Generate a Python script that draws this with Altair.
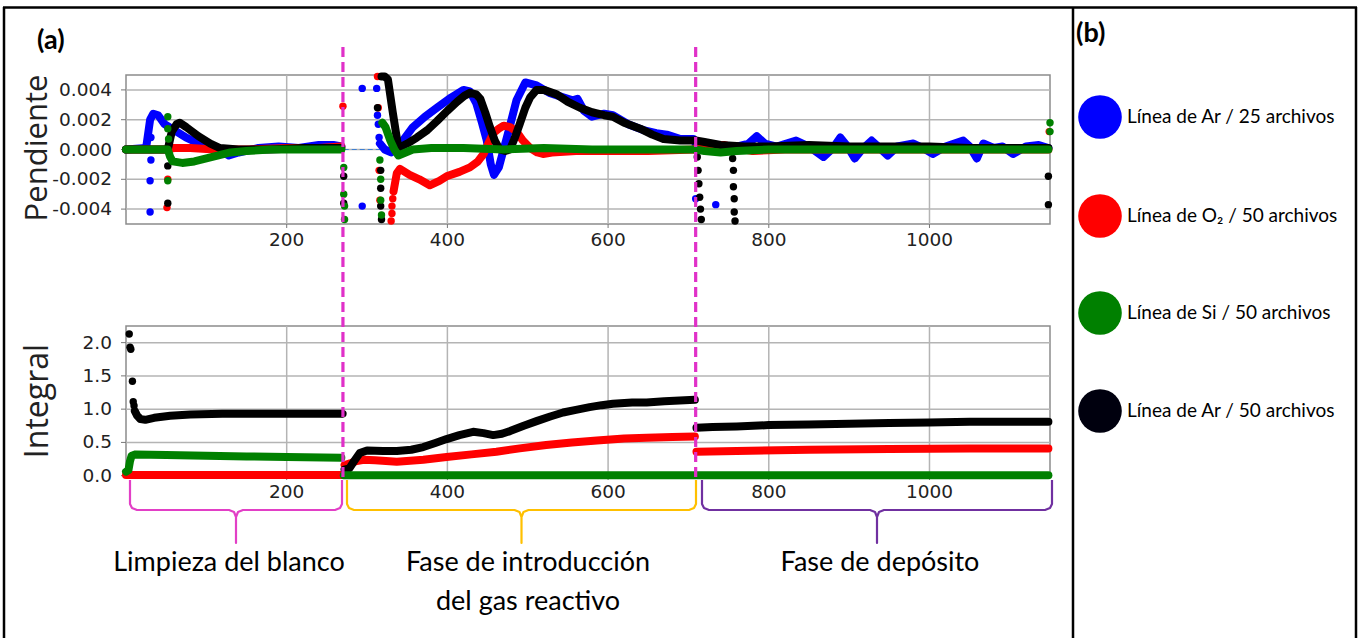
import altair as alt
import pandas as pd

# ---------------------------------------------------------------- data ----
# Time (s) on x. Each trace is split into the three process phases.
PHASE_EDGES = [270, 709]
PHASE_LABELS = ["Limpieza del blanco", "Fase de introducción", "del gas reactivo", "Fase de depósito"]

SERIES = ["ar25", "o2", "si", "ar50"]
LEGEND_LABELS = ["Línea de Ar / 25 archivos", "Línea de O₂ / 50 archivos",
                 "Línea de Si / 50 archivos", "Línea de Ar / 50 archivos"]
COLORS = {"ar25": "#0000ff", "o2": "#ff0000", "si": "#008000", "ar50": "#000000"}
LEGEND_COLORS = ["#0000ff", "#ff0000", "#008000", "#00000e"]
DRAW_ORDER = ["ar25", "o2", "ar50", "si"]

X_TICKS = [200, 400, 600, 800, 1000]
PEND_TICKS = [-0.004, -0.002, 0.0, 0.002, 0.004]
INT_TICKS = [0.0, 0.5, 1.0, 1.5, 2.0]

# ---- Pendiente (slope) traces
pend_ar25 = [
    [(0, 0.0), (25, 0.0001), (30, 0.0020), (34, 0.0024), (40, 0.0023), (48, 0.0017),
     (60, 0.0013), (75, 0.0008), (95, 0.0003), (115, 0.0), (128, -0.0004), (140, -0.0002),
     (165, 0.0001), (190, 0.0002), (215, 0.0001), (240, 0.0003), (258, 0.0003), (268, 0.0002)],
    [(316, 0.0004), (322, 0.0), (330, -0.0002), (339, 0.0002), (357, 0.0015), (372, 0.0022),
     (387, 0.0028), (405, 0.0035), (420, 0.0040), (428, 0.0039), (436, 0.0031), (443, 0.0018),
     (449, 0.0006), (454, -0.0010), (458, -0.0017), (464, -0.0012), (470, 0.0), (476, 0.0012),
     (486, 0.0033), (497, 0.0045), (511, 0.0043), (527, 0.0038), (544, 0.0035), (556, 0.0033),
     (562, 0.0034), (570, 0.0026), (580, 0.0022), (595, 0.0024), (606, 0.0023), (625, 0.0017),
     (644, 0.0013), (660, 0.0011), (673, 0.0010), (690, 0.0007), (706, 0.0007)],
    [(709, 0.0003), (720, 0.0003), (740, 0.0001), (760, 0.0002), (775, 0.0004), (785, 0.0009),
     (795, 0.0004), (810, 0.0002), (834, 0.0006), (850, 0.0002), (868, -0.0005), (880, 0.0001),
     (889, 0.0008), (898, 0.0002), (907, -0.0006), (916, 0.0), (928, 0.0006), (938, 0.0001),
     (948, -0.0004), (960, 0.0002), (980, 0.0004), (992, 0.0001), (1004, -0.0003), (1020, 0.0002),
     (1042, 0.0006), (1050, 0.0002), (1059, -0.0006), (1067, 0.0004), (1080, 0.0001),
     (1091, 0.0002), (1104, -0.0003), (1120, 0.0002), (1136, 0.0003), (1148, 0.0001)],
]
pend_o2 = [
    [(0, 0.0), (50, 0.0), (60, 0.0001), (80, 0.0001), (110, 0.0), (150, 0.0), (200, 0.0001),
     (240, 0.0001), (268, 0.0002)],
    [(333, -0.0028), (337, -0.0016), (341, -0.0013), (353, -0.0017), (365, -0.0020),
     (378, -0.0024), (390, -0.0021), (399, -0.0018), (415, -0.0015), (428, -0.0012),
     (438, -0.0008), (445, -0.0003), (451, 0.0004), (457, 0.0011), (464, 0.0014), (470, 0.0016),
     (478, 0.0015), (486, 0.0012), (494, 0.0006), (503, 0.0001), (512, -0.0002), (519, -0.0003),
     (530, -0.0002), (560, -0.0001), (600, -0.0001), (650, -0.0001), (708, 0.0)],
    [(709, 0.0001), (715, 0.0002), (730, 0.0003), (745, 0.0003), (760, 0.0001), (780, -0.0001),
     (820, 0.0), (880, 0.0), (950, 0.0), (1020, 0.0), (1100, 0.0), (1148, 0.0)],
]
pend_si = [
    [(0, 0.0), (45, 0.0), (52, 0.0), (55, -0.0005), (58, -0.0008), (70, -0.0009), (85, -0.0008),
     (100, -0.0006), (115, -0.0004), (130, -0.0002), (150, -0.0001), (180, 0.0), (220, 0.0),
     (268, 0.0)],
    [(319, 0.0018), (323, 0.0015), (329, 0.0006), (334, 0.0), (339, -0.0004), (348, -0.0002),
     (357, 0.0), (380, 0.0001), (420, 0.0001), (470, 0.0), (520, 0.0001), (580, 0.0), (640, 0.0),
     (708, 0.0)],
    [(709, 0.0), (720, -0.0001), (740, -0.0002), (760, -0.0001), (800, 0.0), (900, 0.0),
     (1000, 0.0), (1100, 0.0), (1148, 0.0)],
]
pend_ar50 = [
    [(0, 0.0), (45, 0.0), (52, 0.0), (57, 0.0012), (63, 0.0017), (67, 0.0018), (75, 0.0015),
     (90, 0.0009), (105, 0.0004), (117, 0.0001), (140, 0.0), (180, 0.0), (220, 0.0001),
     (268, 0.0001)],
    [(318, 0.0049), (322, 0.0049), (326, 0.0047), (332, 0.0025), (339, 0.0001), (350, 0.0004),
     (362, 0.0008), (375, 0.0013), (387, 0.0019), (400, 0.0026), (412, 0.0032), (421, 0.0036),
     (428, 0.0038), (436, 0.0037), (441, 0.0034), (447, 0.0025), (453, 0.0015), (459, 0.0006),
     (465, 0.0), (472, -0.0001), (478, 0.0), (484, 0.0008), (490, 0.0017), (497, 0.0028),
     (503, 0.0035), (511, 0.0040), (520, 0.0040), (536, 0.0037), (550, 0.0032), (565, 0.0028),
     (580, 0.0025), (595, 0.0023), (606, 0.0022), (620, 0.0018), (640, 0.0014), (655, 0.0010),
     (669, 0.0007), (690, 0.0006), (708, 0.0006)],
    [(709, 0.0006), (720, 0.0005), (740, 0.0003), (770, 0.0002), (800, 0.0002), (850, 0.0003),
     (900, 0.0002), (950, 0.0002), (1000, 0.0002), (1050, 0.0001), (1100, 0.0001), (1148, 0.0001)],
]

# isolated slope readings (transients at the phase switches)
pend_ar25_out = [(30, -0.0042), (30, -0.0021), (31, -0.0007), (31, 0.0008), (294, 0.0041),
                 (294, -0.0038), (312, 0.0041), (313, 0.0023), (314, 0.0017), (315, 0.0008),
                 (709, -0.0033), (734, -0.0037)]
pend_o2_out = [(52, -0.0020), (51, -0.0039), (270, 0.0029), (313, 0.0049), (314, 0.0028),
               (315, -0.0014), (316, -0.0034), (330, -0.0048), (331, -0.0043), (331, -0.0038),
               (332, -0.0033), (1149, 0.0012)]
pend_si_out = [(52, 0.0022), (52, 0.0014), (53, 0.0007), (52, -0.0021), (271, -0.0012),
               (271, -0.0030), (272, -0.0038), (272, -0.0047), (316, -0.0007), (317, -0.0020),
               (317, -0.0034), (318, -0.0044), (1150, 0.0018), (1150, 0.0012)]
pend_ar50_out = [(52, -0.0011), (52, -0.0036), (271, -0.0018), (271, -0.0036), (313, 0.0028),
                 (317, -0.0014), (317, -0.0026), (317, -0.0038), (318, -0.0047), (711, -0.0005),
                 (712, -0.0014), (713, -0.0023), (714, -0.0032), (715, -0.0040), (716, -0.0047),
                 (755, -0.0006), (756, -0.0014), (756, -0.0025), (757, -0.0033), (757, -0.0042),
                 (758, -0.0048), (1148, -0.0018), (1148, -0.0037)]

# thin link drawn across the gap of the slope traces
pend_link = [(271, 0.0), (316, 0.0)]

# ---- Integral traces
int_ar25 = [[], [], []]
int_o2 = [
    [(0, 0.01), (50, 0.01), (150, 0.01), (268, 0.01)],
    [(272, 0.16), (280, 0.19), (287, 0.22), (296, 0.24), (310, 0.23), (337, 0.21), (370, 0.24),
     (399, 0.28), (430, 0.32), (461, 0.36), (490, 0.41), (523, 0.46), (555, 0.50), (586, 0.53),
     (620, 0.56), (648, 0.57), (680, 0.58), (708, 0.59)],
    [(710, 0.36), (760, 0.37), (850, 0.39), (950, 0.40), (1050, 0.41), (1148, 0.41)],
]
int_si = [
    [(0, 0.06), (3, 0.08), (5, 0.22), (7, 0.30), (12, 0.32), (50, 0.31), (100, 0.30), (150, 0.29),
     (200, 0.28), (268, 0.27)],
    [(271, 0.005), (708, 0.005)],
    [(710, 0.005), (1148, 0.005)],
]
int_ar50 = [
    [(11, 0.97), (14, 0.90), (18, 0.85), (24, 0.84), (35, 0.87), (55, 0.90), (80, 0.92),
     (120, 0.93), (170, 0.93), (220, 0.93), (268, 0.93)],
    [(272, 0.09), (278, 0.11), (284, 0.22), (291, 0.34), (300, 0.38), (320, 0.37), (337, 0.37),
     (355, 0.39), (370, 0.43), (385, 0.49), (399, 0.55), (415, 0.61), (432, 0.66), (445, 0.64),
     (457, 0.61), (468, 0.63), (478, 0.67), (495, 0.75), (511, 0.82), (528, 0.89), (544, 0.95),
     (560, 0.99), (577, 1.03), (592, 1.06), (606, 1.08), (630, 1.10), (648, 1.10), (670, 1.12),
     (689, 1.13), (708, 1.14)],
    [(710, 0.72), (730, 0.73), (760, 0.74), (800, 0.76), (850, 0.77), (900, 0.78), (950, 0.79),
     (1000, 0.80), (1050, 0.81), (1100, 0.81), (1148, 0.81)],
]
int_ar25_out = []
int_o2_out = []
int_si_out = []
int_ar50_out = [(4, 2.13), (5, 1.93), (6, 1.90), (8, 1.42), (9, 1.11), (10, 1.05), (270, 0.93)]


def trace_rows(name, segs):
    return [{"serie": name, "seg": s, "t": x, "v": y}
            for s, seg in enumerate(segs) for x, y in seg]


def point_rows(name, pts):
    return [{"serie": name, "t": x, "v": y} for x, y in pts]


pend_lines = pd.DataFrame(trace_rows("ar25", pend_ar25) + trace_rows("o2", pend_o2)
                          + trace_rows("si", pend_si) + trace_rows("ar50", pend_ar50))
pend_points = pd.DataFrame(point_rows("ar25", pend_ar25_out) + point_rows("o2", pend_o2_out)
                           + point_rows("si", pend_si_out) + point_rows("ar50", pend_ar50_out))
int_lines = pd.DataFrame(trace_rows("ar25", int_ar25) + trace_rows("o2", int_o2)
                         + trace_rows("si", int_si) + trace_rows("ar50", int_ar50),
                         columns=["serie", "seg", "t", "v"])
int_points = pd.DataFrame(point_rows("ar25", int_ar25_out) + point_rows("o2", int_o2_out)
                          + point_rows("si", int_si_out) + point_rows("ar50", int_ar50_out),
                          columns=["serie", "t", "v"])

# ------------------------------------------------------------- layout ----
W, H = 1363, 638
X_DOMAIN = [0, 1150]
PLOT_X = [126, 1050]
PEND_DOMAIN, PEND_Y = [-0.005, 0.005], [224, 75]
INT_DOMAIN, INT_Y = [-0.005, 2.25], [476, 326]

GRID = "#b4b4b4"
FRAME = "#8c8c8c"
TICK = "#777777"
PINK = "#e030c8"
TICK_FONT = "DejaVu Sans"
TICK_SIZE = 18.5
TEXT_FONT = "Lato"

XS = alt.Scale(domain=X_DOMAIN, range=PLOT_X, nice=False, zero=False)


def panel(lines, points, domain, yrange, yticks, fmt, extra):
    ys = alt.Scale(domain=domain, range=yrange, nice=False, zero=False)
    base_px = yrange[0]
    frame = alt.Chart(pd.DataFrame({"x0": [X_DOMAIN[0]], "x1": [X_DOMAIN[1]],
                                    "y0": [domain[0]], "y1": [domain[1]]})).mark_rect(
        fillOpacity=0, stroke=FRAME, strokeWidth=1.5).encode(
        x=alt.X("x0:Q", scale=XS, axis=None), x2="x1:Q",
        y=alt.Y("y0:Q", scale=ys, axis=None), y2="y1:Q")
    xt = pd.DataFrame({"t": X_TICKS, "lo": domain[0], "hi": domain[1],
                       "lab": [str(t) for t in X_TICKS]})
    yt = pd.DataFrame({"v": yticks, "lo": X_DOMAIN[0], "hi": X_DOMAIN[1],
                       "lab": [format(v, fmt) for v in yticks]})
    grid_v = alt.Chart(xt).mark_rule(color=GRID, strokeWidth=1.5).encode(
        x=alt.X("t:Q", scale=XS, axis=None), y=alt.Y("lo:Q", scale=ys, axis=None), y2="hi:Q")
    grid_h = alt.Chart(yt).mark_rule(color=GRID, strokeWidth=1.5).encode(
        y=alt.Y("v:Q", scale=ys, axis=None), x=alt.X("lo:Q", scale=XS, axis=None), x2="hi:Q")
    # tick marks and tick labels, placed through the panel scales
    x_ticks = alt.Chart(xt).mark_rule(color=TICK, strokeWidth=1).encode(
        x=alt.X("t:Q", scale=XS, axis=None), y=alt.value(base_px), y2=alt.value(base_px + 4))
    x_labels = alt.Chart(xt).mark_text(
        font=TICK_FONT, fontSize=TICK_SIZE, color="#222", align="center", baseline="top").encode(
        x=alt.X("t:Q", scale=XS, axis=None), y=alt.value(base_px + 7), text="lab:N")
    y_ticks = alt.Chart(yt).mark_rule(color=TICK, strokeWidth=1).encode(
        y=alt.Y("v:Q", scale=ys, axis=None), x=alt.value(PLOT_X[0] - 5), x2=alt.value(PLOT_X[0]))
    y_labels = alt.Chart(yt).mark_text(
        font=TICK_FONT, fontSize=TICK_SIZE, color="#222", align="right", baseline="middle").encode(
        y=alt.Y("v:Q", scale=ys, axis=None), x=alt.value(PLOT_X[0] - 14), text="lab:N")
    layers = [frame, grid_v, grid_h, x_ticks, x_labels, y_ticks, y_labels] + extra(ys)
    for name in DRAW_ORDER:
        col = COLORS[name]
        ln = lines[lines.serie == name]
        if len(ln):
            layers.append(alt.Chart(ln).mark_line(
                color=col, strokeWidth=8, strokeCap="round", strokeJoin="round").encode(
                x=alt.X("t:Q", scale=XS, axis=None),
                y=alt.Y("v:Q", scale=ys, axis=None),
                detail="seg:N"))
        pt = points[points.serie == name]
        if len(pt):
            layers.append(alt.Chart(pt).mark_circle(color=col, size=55, opacity=1).encode(
                x=alt.X("t:Q", scale=XS, axis=None),
                y=alt.Y("v:Q", scale=ys, axis=None)))
    return alt.layer(*layers)


def pend_extra(ys):
    link = alt.Chart(pd.DataFrame({"t": [pend_link[0][0]], "t2": [pend_link[1][0]],
                                   "v": [pend_link[0][1]]})).mark_rule(
        color="#3f7fd0", strokeWidth=1.2, strokeDash=[5, 3]).encode(
        x=alt.X("t:Q", scale=XS, axis=None), x2="t2:Q", y=alt.Y("v:Q", scale=ys, axis=None))
    return [link]


top = panel(pend_lines, pend_points, PEND_DOMAIN, PEND_Y, PEND_TICKS, ".3f", pend_extra)
bottom = panel(int_lines, int_points, INT_DOMAIN, INT_Y, INT_TICKS, ".1f", lambda ys: [])

# phase boundaries crossing both panels
edges = alt.Chart(pd.DataFrame({"t": PHASE_EDGES})).mark_rule(
    color=PINK, strokeWidth=3.2, strokeDash=[10, 5]).encode(
    x=alt.X("t:Q", scale=XS, axis=None), y=alt.value(47), y2=alt.value(479))

# curly braces under the time axis, one per phase (pixel space)
PX = alt.Scale(domain=[0, W], range=[0, W], nice=False, zero=False)
PY = alt.Scale(domain=[0, H], range=[0, H], nice=False, zero=False)
BRACES = [(130, 342, "#e23fc6"), (347, 696, "#ffc000"), (702, 1052, "#7030a0")]


def brace_rows(k, x0, x1):
    xm = (x0 + x1) / 2
    top_y, mid_y, tip_y = 480, 510, 543
    pts = [(x0, top_y), (x0, mid_y - 6), (x0 + 2, mid_y - 2), (x0 + 7, mid_y),
           (xm - 7, mid_y), (xm - 2, mid_y + 2), (xm, mid_y + 7), (xm, tip_y),
           (xm, mid_y + 7), (xm + 2, mid_y + 2), (xm + 7, mid_y),
           (x1 - 7, mid_y), (x1 - 2, mid_y - 2), (x1, mid_y - 6), (x1, top_y)]
    return [{"b": k, "i": i, "px": p[0], "py": p[1]} for i, p in enumerate(pts)]


brace_layers = []
for k, (x0, x1, col) in enumerate(BRACES):
    brace_layers.append(alt.Chart(pd.DataFrame(brace_rows(k, x0, x1))).mark_line(
        color=col, strokeWidth=2.2, strokeJoin="round").encode(
        x=alt.X("px:Q", scale=PX, axis=None), y=alt.Y("py:Q", scale=PY, axis=None),
        order="i:Q"))
braces = alt.layer(*brace_layers)

# phase captions
CAPTION_POS = [(229, 563), (528, 563), (528, 602), (880, 563)]
captions = [alt.Chart(pd.DataFrame({"s": [s]})).mark_text(
    font=TEXT_FONT, fontSize=27, color="#000", align="center", baseline="middle").encode(
    text="s:N", x=alt.value(p[0]), y=alt.value(p[1])) for s, p in zip(PHASE_LABELS, CAPTION_POS)]

# axis titles
axis_titles = [alt.Chart(pd.DataFrame({"s": [s]})).mark_text(
    font="Open Sans", fontSize=fs, color="#222", angle=270, align="center", baseline="middle").encode(
    text="s:N", x=alt.value(38), y=alt.value(yc))
    for s, yc, fs in [("Pendiente", 148, 31), ("Integral", 401, 32)]]

# panel tags
tags = [alt.Chart(pd.DataFrame({"s": [s]})).mark_text(
    font=TEXT_FONT, fontSize=27, fontWeight="bold", color="#000", align="left",
    baseline="middle").encode(text="s:N", x=alt.value(px), y=alt.value(py))
    for s, px, py in [("(a)", 37, 41), ("(b)", 1076, 34)]]

# legend panel
LEG_Y = [117, 216, 313, 411]
legend = []
for lab, col, yy in zip(LEGEND_LABELS, LEGEND_COLORS, LEG_Y):
    d = pd.DataFrame({"s": [lab]})
    legend.append(alt.Chart(d).mark_circle(color=col, size=1900, opacity=1).encode(
        x=alt.value(1100), y=alt.value(yy)))
    legend.append(alt.Chart(d).mark_text(
        font=TEXT_FONT, fontSize=19, color="#000", align="left", baseline="middle").encode(
        text="s:N", x=alt.value(1127), y=alt.value(yy)))

# outer box of the figure
box = [alt.Chart(pd.DataFrame({"k": [0]})).mark_rule(color="#000", strokeWidth=2.5).encode(
    x=alt.value(a), x2=alt.value(b), y=alt.value(c), y2=alt.value(d))
    for a, b, c, d in [(3, 1357, 7.5, 7.5), (4, 4, 7, H), (1073, 1073, 7, H), (1356, 1356, 7, H)]]

chart = alt.layer(
    top, bottom, edges, braces, *captions, *axis_titles, *tags, *legend, *box
).resolve_scale(x="independent", y="independent").properties(
    width=W, height=H, padding=0, autosize=alt.AutoSizeParams(type="none"),
    background="white"
).configure_view(stroke=None)

chart.save("out.html", embed_options={"renderer": "svg", "actions": False})
